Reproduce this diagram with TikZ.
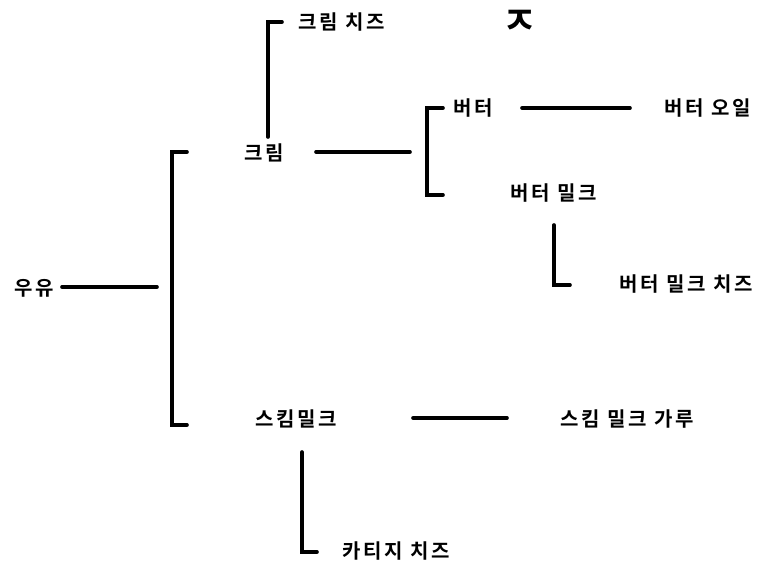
\documentclass[tikz,border=0pt]{standalone}
\usepackage{fontspec}
\newfontfamily\kr{Noto Sans CJK KR Bold}[LetterSpace=14]
\newfontfamily\krmark{Noto Sans CJK KR Bold}
\begin{document}
\begin{tikzpicture}[x=1pt,y=-1pt,
  lbl/.style={font=\kr\fontsize{20}{20}\selectfont, inner sep=0pt, anchor=center},
  wire/.style={line width=3.6pt, line cap=round, line join=miter}]
\useasboundingbox (0,0) rectangle (767,567);

% labels
\node[lbl] (milk)  at (34,288)  {우유};
\node[lbl] (cream) at (264,153) {크림};
\node[lbl] (cc)    at (342,22)  {크림 치즈};
\node[lbl, font=\krmark\fontsize{38}{38}\selectfont] (mark) at (520,22) {ㅈ};
\node[lbl] (butter) at (473,108) {버터};
\node[lbl] (boil)   at (708,108) {버터 오일};
\node[lbl] (bm)     at (554,193) {버터 밀크};
\node[lbl] (bmc)    at (686,284) {버터 밀크 치즈};
\node[lbl] (skim)   at (296,419) {스킴밀크};
\node[lbl] (smp)    at (627,419) {스킴 밀크 가루};
\node[lbl] (cot)    at (396,551) {카티지 치즈};

% connector end points
\coordinate (m1) at (62,287);   \coordinate (m2) at (157,287);
\coordinate (b1t) at (187,152); \coordinate (b1a) at (172,152);
\coordinate (b1b) at (172,425); \coordinate (b1e) at (187,425);
\coordinate (c1) at (268,137);  \coordinate (c2) at (268,22);  \coordinate (c3) at (282,22);
\coordinate (cl1) at (316,152); \coordinate (cl2) at (410,152);
\coordinate (b2t) at (443,108); \coordinate (b2a) at (427,108);
\coordinate (b2b) at (427,195); \coordinate (b2e) at (443,195);
\coordinate (bo1) at (522,108); \coordinate (bo2) at (630,108);
\coordinate (bm1) at (554,225); \coordinate (bm2) at (554,285); \coordinate (bm3) at (570,285);
\coordinate (s1) at (413,418);  \coordinate (s2) at (507,418);
\coordinate (k1) at (302,452);  \coordinate (k2) at (302,552); \coordinate (k3) at (317,552);

% connectors
\draw[wire] (m1) -- (m2);
\draw[wire] (b1t) -- (b1a) -- (b1b) -- (b1e);
\draw[wire] (c1) -- (c2) -- (c3);
\draw[wire] (cl1) -- (cl2);
\draw[wire] (b2t) -- (b2a) -- (b2b) -- (b2e);
\draw[wire] (bo1) -- (bo2);
\draw[wire] (bm1) -- (bm2) -- (bm3);
\draw[wire] (s1) -- (s2);
\draw[wire] (k1) -- (k2) -- (k3);
\end{tikzpicture}
\end{document}
